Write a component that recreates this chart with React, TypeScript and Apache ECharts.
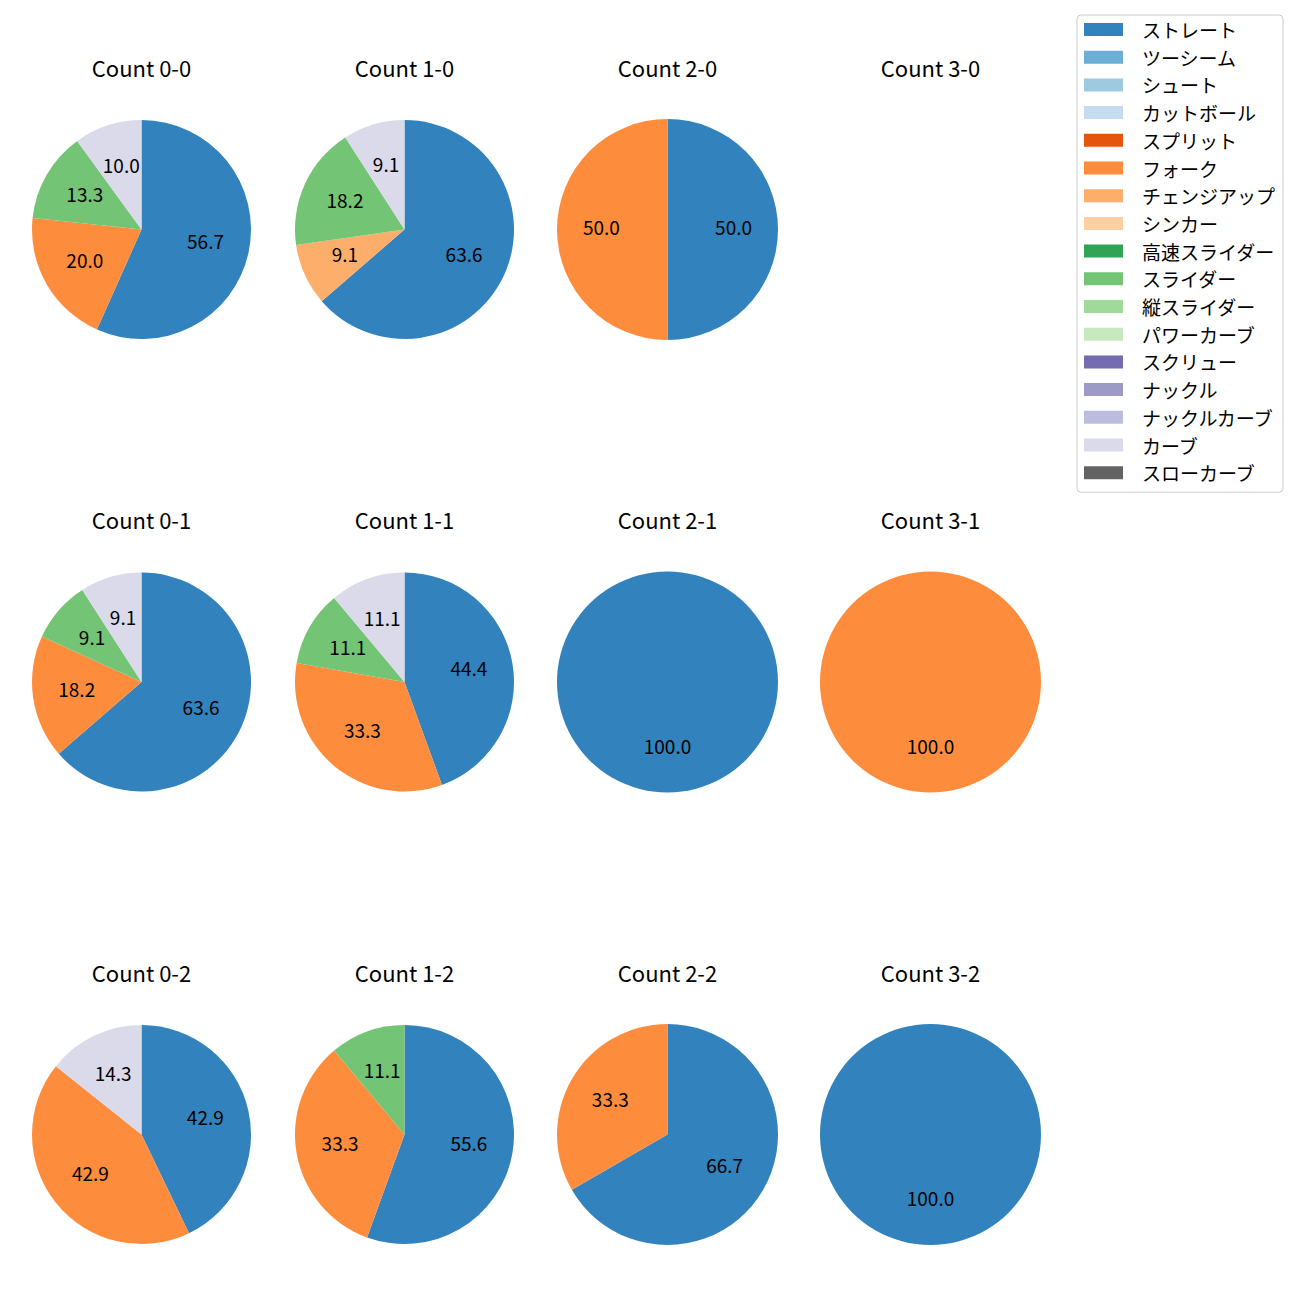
import React, { useEffect, useRef } from "react";
import * as echarts from "echarts";

const pitchTypes = [
  "ストレート", "ツーシーム", "シュート", "カットボール", "スプリット", "フォーク",
  "チェンジアップ", "シンカー", "高速スライダー", "スライダー", "縦スライダー",
  "パワーカーブ", "スクリュー", "ナックル", "ナックルカーブ", "カーブ", "スローカーブ",
];
const pitchColors = [
  "#3182bd", "#6baed6", "#9ecae1", "#c6dbef", "#e6550d", "#fd8d3c",
  "#fdae6b", "#fdd0a2", "#31a354", "#74c476", "#a1d99b",
  "#c7e9c0", "#756bb1", "#9e9ac8", "#bcbddc", "#dadaeb", "#636363",
];

// cells in row-major order: columns = balls 0..3, rows = strikes 0..2
const cellTitles = [
  "Count 0-0", "Count 1-0", "Count 2-0", "Count 3-0",
  "Count 0-1", "Count 1-1", "Count 2-1", "Count 3-1",
  "Count 0-2", "Count 1-2", "Count 2-2", "Count 3-2",
];
const cellPitches: string[][] = [
  ["ストレート", "フォーク", "スライダー", "カーブ"],
  ["ストレート", "チェンジアップ", "スライダー", "カーブ"],
  ["ストレート", "フォーク"],
  [],
  ["ストレート", "フォーク", "スライダー", "カーブ"],
  ["ストレート", "フォーク", "スライダー", "カーブ"],
  ["ストレート"],
  ["フォーク"],
  ["ストレート", "フォーク", "カーブ"],
  ["ストレート", "フォーク", "スライダー"],
  ["ストレート", "フォーク"],
  ["ストレート"],
];
const cellCounts: number[][] = [
  [17, 6, 4, 3],
  [7, 1, 2, 1],
  [1, 1],
  [],
  [7, 2, 1, 1],
  [4, 3, 1, 1],
  [1],
  [1],
  [3, 3, 1],
  [5, 3, 1],
  [2, 1],
  [1],
];

const FONT = "'Noto Sans CJK JP', 'Noto Sans', sans-serif";
const colX = [141.5, 404.5, 667.5, 930.5];
const rowY = [229.5, 682, 1134.5];
const titleY = [67, 519, 972];

export default function App() {
  const ref = useRef<HTMLDivElement>(null);
  useEffect(() => {
    document.body.style.margin = "0";
    if (!ref.current) return;
    const chart = echarts.init(ref.current, null, { renderer: "svg" });
    const colorOf = (n: string) => pitchColors[pitchTypes.indexOf(n)];

    const titles: any[] = [];
    const series: any[] = [];
    // legend provider series (first so legend takes its colours)
    series.push({
      type: "pie",
      silent: true,
      center: [-100, -100],
      radius: [0, 0],
      label: { show: false },
      labelLine: { show: false },
      data: pitchTypes.map((n, i) => ({ name: n, value: 0, itemStyle: { color: pitchColors[i] } })),
    });

    cellTitles.forEach((t, idx) => {
      const c = idx % 4;
      const r = Math.floor(idx / 4);
      const cx = colX[c];
      const cy = rowY[r];
      const rad = c < 2 ? 109.5 : 110.5;
      titles.push({
        text: t,
        left: cx,
        top: titleY[r],
        textAlign: "center",
        textVerticalAlign: "middle",
        padding: 0,
        textStyle: { fontFamily: FONT, fontSize: 22, fontWeight: "normal", color: "#000", lineHeight: 22 },
      });
      const names = cellPitches[idx];
      const vals = cellCounts[idx];
      if (names.length === 0) return;
      const total = vals.reduce((a, b) => a + b, 0);
      const data = names.map((n, i) => ({ name: n, value: vals[i], itemStyle: { color: colorOf(n) } }));
      series.push({
        type: "pie",
        center: [cx, cy],
        radius: [0, rad],
        startAngle: 90,
        clockwise: true,
        animation: false,
        silent: true,
        itemStyle: { borderWidth: 0 },
        label: { show: false },
        labelLine: { show: false },
        emphasis: { disabled: true },
        data,
      });
      series.push({
        type: "pie",
        center: [cx, cy],
        radius: [rad * 0.2 - 6.5, rad],
        startAngle: 90,
        clockwise: true,
        animation: false,
        silent: true,
        itemStyle: { borderWidth: 0, color: "rgba(0,0,0,0)" },
        label: {
          show: true,
          position: "inside",
          fontFamily: FONT,
          fontSize: 19,
          color: "#000",
          offset: [0, -3],
          formatter: (p: any) => ((p.value / total) * 100).toFixed(1),
        },
        labelLine: { show: false },
        emphasis: { disabled: true },
        data: names.map((n, i) => ({ name: n, value: vals[i], itemStyle: { color: "rgba(0,0,0,0)" } })),
      });
    });

    chart.setOption({
      animation: false,
      backgroundColor: "#fff",
      title: titles,
      legend: {
        orient: "vertical",
        left: 1077,
        top: 15,
        padding: [5, 8, 10, 7],
        itemWidth: 53,
        itemHeight: 13,
        itemGap: 8.7,
        icon: "path://M53,13M0,0L39,0L39,13L0,13Z",
        borderColor: "#cccccc",
        borderWidth: 1,
        borderRadius: 4,
        backgroundColor: "#fff",
        selectedMode: false,
        textStyle: { fontFamily: FONT, fontSize: 19, color: "#000", lineHeight: 19 },
        data: pitchTypes,
      },
      series,
    });
    return () => chart.dispose();
  }, []);
  return <div ref={ref} style={{ width: 1300, height: 1300 }} />;
}
